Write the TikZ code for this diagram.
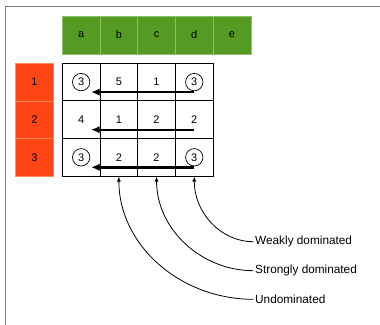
\documentclass[tikz,border=0pt]{standalone}
\usepackage{fontspec}
\setmainfont{Liberation Sans}
\usetikzlibrary{arrows.meta}
\definecolor{hdrgreen}{HTML}{559A22}
\definecolor{hdrline}{HTML}{8CBF66}
\definecolor{rowred}{HTML}{FF4513}
\definecolor{rowline}{HTML}{FF8A66}
\definecolor{framegray}{HTML}{808080}
\tikzset{
  cellfont/.style={font=\fontsize{11bp}{13bp}\selectfont},
  hdrcell/.style={cellfont, fill=hdrgreen, draw=hdrline, line width=0.6bp,
    minimum width=37.7bp, minimum height=37.8bp, inner sep=0pt},
  rowcell/.style={cellfont, fill=rowred, draw=rowline, line width=0.6bp,
    minimum width=37.6bp, minimum height=37.6bp, inner sep=0pt},
  gridcell/.style={cellfont, draw=black, line width=0.9bp,
    minimum width=37.7bp, minimum height=37.6bp, inner sep=0pt},
  ring/.style={draw=black, line width=0.7bp},
  domarrow/.style={line width=2.4bp, -{Latex[length=8.5bp,width=7.5bp]}},
  conn/.style={line width=0.8bp, -{Latex[length=5bp,width=4bp]}},
  lbl/.style={font=\fontsize{11.8bp}{14bp}\selectfont, anchor=west, inner sep=1.5bp}
}
\begin{document}
\begin{tikzpicture}[x=1bp, y=-1bp]
  \useasboundingbox (0,0) rectangle (380,325);
  % frame edges
  \draw[framegray, line width=1.5bp] (5.5,325) -- (5.5,6.5) -- (380,6.5);

  % column header
  \foreach \l [count=\j] in {a,b,c,d,e}
    \node[hdrcell] (h\l) at ({62.3+37.7*(\j-0.5)}, 35) {\l};

  % row header
  \foreach \r in {1,2,3}
    \node[rowcell] (r\r) at (34.5, {63.3+37.6*(\r-0.5)}) {\r};

  % payoff grid
  \foreach \row [count=\i] in {{,5,1,},{4,1,2,2},{,2,2,}} {
    \foreach \v [count=\j] in \row
      \node[gridcell] (c\i\j) at ({62.3+37.7*(\j-0.5)}, {63.3+37.6*(\i-0.5)}) {\v};
  }

  % circled entries
  \foreach \n in {c11,c14,c31,c34}
    \node[ring, circle, cellfont, minimum size=17.4bp, inner sep=0pt] (o\n) at (\n.center) {3};

  % dominance arrows
  \foreach \i in {1,2,3}
    \draw[domarrow] ([yshift=-10bp]c\i4.center) -- ([xshift=10bp,yshift=-10bp]c\i1.center);

  % labels
  \node[lbl] (lw) at (253.5, 241.7) {Weakly dominated};
  \node[lbl] (ls) at (253.5, 270.7) {Strongly dominated};
  \node[lbl] (lu) at (253.5, 299.3) {Undominated};

  % callouts to the columns
  \draw[conn] (lw.west) .. controls +(-33,0) and +(0,36) .. (c34.south);
  \draw[conn] (ls.west) .. controls +(-53,0) and +(0,52) .. (c33.south);
  \draw[conn] (lu.west) .. controls +(-74,0) and +(0,68) .. (c32.south);
\end{tikzpicture}
\end{document}
